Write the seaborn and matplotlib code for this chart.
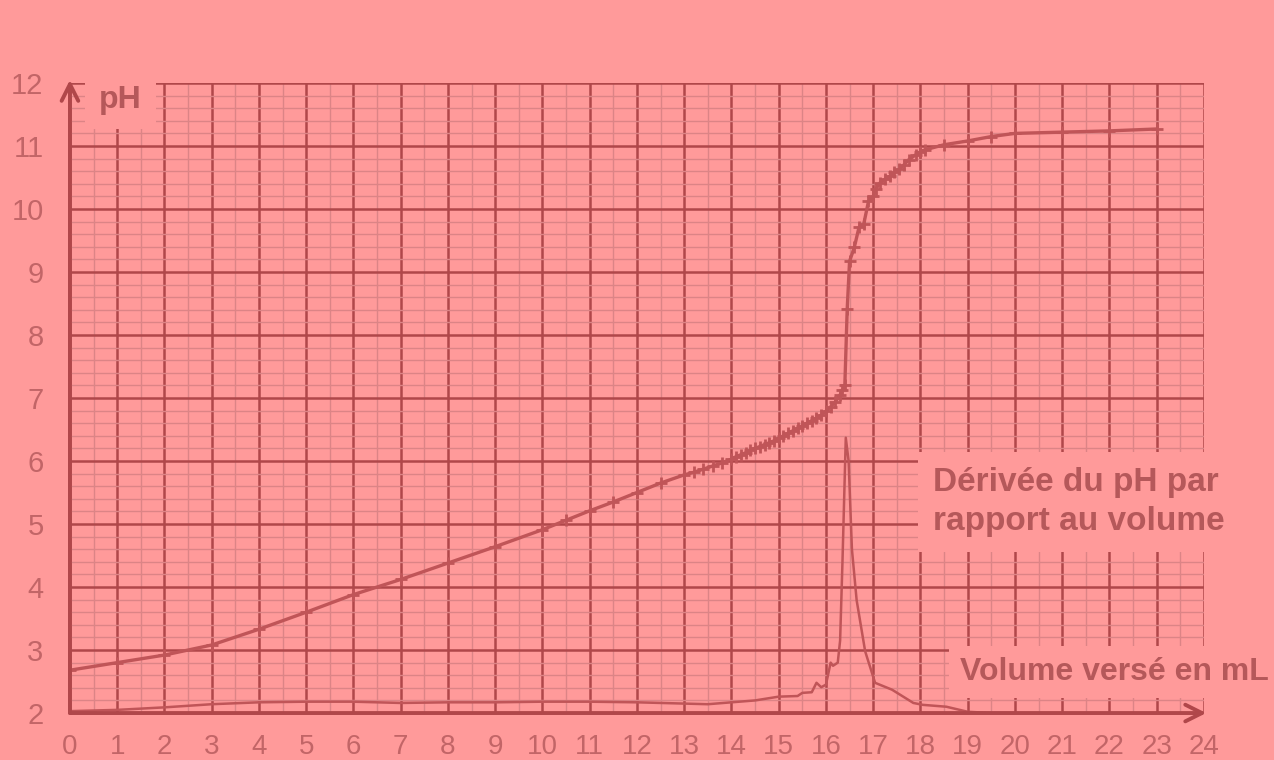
import matplotlib
matplotlib.use("Agg")
import matplotlib.pyplot as plt
import seaborn as sns
import numpy as np
import pandas as pd

# ---- data ----
volume_ph = [0, 1, 2, 3, 4, 5, 6, 7, 8, 9, 10, 10.5, 11, 11.5, 12, 12.5,
             13.0, 13.2, 13.4, 13.6, 13.8, 14.0, 14.1, 14.2, 14.3, 14.4, 14.5,
             14.6, 14.7, 14.8, 14.9, 15.0, 15.1, 15.2, 15.3, 15.4, 15.5, 15.6,
             15.7, 15.8, 15.9, 16.0, 16.1, 16.2, 16.3, 16.35, 16.4, 16.45, 16.5,
             16.6, 16.7, 16.8, 16.9, 17.0, 17.05, 17.15, 17.25, 17.35, 17.45,
             17.55, 17.65, 17.75, 17.9, 18.0, 18.1, 18.5, 19.0, 19.5, 20.0,
             21.0, 22.0, 23.0]
ph_values = [2.68, 2.80, 2.92, 3.08, 3.33, 3.60, 3.88, 4.12, 4.38, 4.64, 4.91,
             5.06, 5.21, 5.35, 5.50, 5.65,
             5.78, 5.82, 5.87, 5.92, 5.97, 6.03, 6.07, 6.10, 6.13, 6.17, 6.20,
             6.23, 6.26, 6.29, 6.32, 6.36, 6.40, 6.44, 6.48, 6.52, 6.56, 6.60,
             6.64, 6.68, 6.73, 6.79, 6.86, 6.94, 7.05, 7.12, 7.20, 8.41, 9.17,
             9.39, 9.71, 9.76, 10.12, 10.20, 10.31, 10.42, 10.47, 10.52, 10.58,
             10.63, 10.70, 10.78, 10.86, 10.91, 10.94, 11.02, 11.08, 11.15, 11.20,
             11.22, 11.24, 11.27]

volume_deriv = [0, 1, 2, 3, 4, 5, 6, 7, 8, 9, 10, 11, 12, 13, 13.5, 14, 14.5,
                15.0, 15.4, 15.5, 15.7, 15.8, 15.9, 16.0, 16.1, 16.15, 16.25,
                16.3, 16.35, 16.42, 16.48, 16.55, 16.65, 16.83, 17.04, 17.4,
                17.85, 18.05, 18.55, 19.0, 19.5, 20.0]
deriv_values = [2.03, 2.05, 2.09, 2.14, 2.17, 2.18, 2.18, 2.16, 2.17, 2.17, 2.18,
                2.18, 2.17, 2.15, 2.14, 2.17, 2.20,
                2.26, 2.27, 2.32, 2.33, 2.48, 2.41, 2.45, 2.80, 2.75, 2.80,
                3.15, 4.40, 6.37, 6.00, 4.60, 3.79, 2.98, 2.48, 2.37,
                2.16, 2.13, 2.10, 2.02, 2.00, 2.00]

x_ticks = list(range(0, 25))
y_ticks = list(range(2, 13))

ph_label = "pH"
deriv_label = "Dérivée du pH par\nrapport au volume"
x_label = "Volume versé en mL"

# ---- style ----
BG = "#ff9a9a"
MAJOR = "#b0474a"
MINOR = "#dc8486"
CURVE = "#c05558"
TEXT = "#b5585a"
TICK = "#c26567"

sns.set_theme(style="white")
plt.rcParams["font.family"] = ["Liberation Sans", "DejaVu Sans"]

fig = plt.figure(figsize=(12.74, 7.6), dpi=100, facecolor=BG)
ax = fig.add_axes([0.0549, 0.0618, 0.8901, 0.829])
ax.set_facecolor(BG)

df_ph = pd.DataFrame({"v": volume_ph, "ph": ph_values})
df_d = pd.DataFrame({"v": volume_deriv, "d": deriv_values})

sns.lineplot(data=df_ph, x="v", y="ph", ax=ax, color=CURVE, lw=2.4,
             marker="+", markersize=8, markeredgewidth=2.0,
             markeredgecolor=CURVE, estimator=None, sort=False, zorder=5)
sns.lineplot(data=df_d, x="v", y="d", ax=ax, color=CURVE, lw=1.8,
             estimator=None, sort=False, zorder=5)

ax.set_xlim(0, 24)
ax.set_ylim(2, 12)
ax.set_xticks(x_ticks)
ax.set_yticks(y_ticks)
ax.set_xticks(np.arange(0, 24.01, 0.5), minor=True)
ax.set_yticks(np.arange(2, 12.01, 0.2), minor=True)
ax.grid(which="major", color=MAJOR, lw=1.8, zorder=0)
ax.grid(which="minor", color=MINOR, lw=1.0, zorder=0)
ax.set_axisbelow(True)
ax.tick_params(which="both", length=0)
ax.tick_params(axis="x", pad=15, labelsize=20, labelcolor=TICK)
ax.tick_params(axis="y", pad=19, labelsize=21, labelcolor=TICK)
ax.set_xlabel("")
ax.set_ylabel("")
for s in ax.spines.values():
    s.set_visible(False)

# axes with arrows
ax.annotate("", xy=(24.05, 2), xytext=(0, 2), xycoords="data",
            arrowprops=dict(arrowstyle="->", color=MAJOR, lw=2.8,
                            mutation_scale=30, shrinkA=0, shrinkB=0),
            annotation_clip=False, zorder=6)
ax.annotate("", xy=(0, 12.05), xytext=(0, 2), xycoords="data",
            arrowprops=dict(arrowstyle="->", color=MAJOR, lw=2.8,
                            mutation_scale=30, shrinkA=0, shrinkB=0),
            annotation_clip=False, zorder=6)

# labels with boxes hiding the grid
ax.text(0.62, 11.73, ph_label, fontsize=23, fontweight="bold", color=TEXT,
        ha="left", va="center", zorder=4,
        bbox=dict(facecolor=BG, edgecolor="none", boxstyle="square,pad=0.45"))
ax.text(18.26, 5.35, deriv_label, fontsize=24, fontweight="bold", color=TEXT,
        ha="left", va="center", linespacing=1.3, zorder=4,
        bbox=dict(facecolor=BG, edgecolor="none", boxstyle="square,pad=0.45"))
ax.text(18.84, 2.65, x_label, fontsize=23, fontweight="bold", color=TEXT,
        ha="left", va="center", zorder=4, clip_on=False,
        bbox=dict(facecolor=BG, edgecolor="none", boxstyle="square,pad=0.35"))

fig.savefig("out.png", dpi=100, facecolor=BG)
